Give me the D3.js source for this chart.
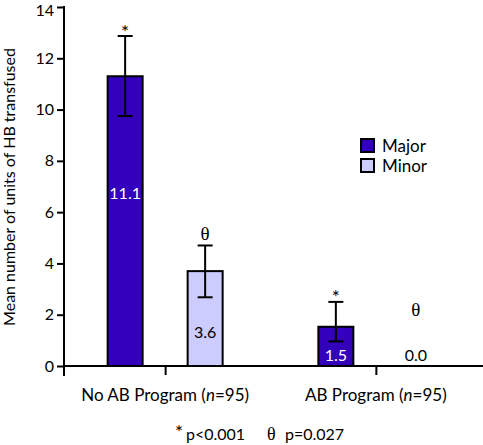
<!DOCTYPE html>
<html><head><meta charset="utf-8">
<script src="https://cdn.jsdelivr.net/npm/d3@7"></script>
<style>
body{margin:0;background:#fff}
text{font-family:Lato,"Open Sans",sans-serif;fill:#000}
</style></head>
<body><svg id="c" width="483" height="445"></svg>
<script>
const groups = ["No AB Program", "AB Program"];
const groupN = [95, 95];
const series = ["Major", "Minor"];
const majorValues = [11.3, 1.53];
const minorValues = [3.7, 0.0];
const majorErrLow = [9.75, 0.96];
const majorErrHigh = [12.87, 2.5];
const minorErrLow = [2.68, null];
const minorErrHigh = [4.7, null];
const majorLabels = ["11.1", "1.5"];
const minorLabels = ["3.6", "0.0"];
const majorLabelAt = [6.75, 0.43];
const minorLabelAt = [1.33, 0.43];
const majorMarks = ["*", "*"];
const minorMarks = ["θ", "θ"];
const yTicks = [0, 2, 4, 6, 8, 10, 12, 14];
const colors = {Major: "#3300bb", Minor: "#ccccff"};
const labelColors = {Major: "#fff", Minor: "#000"};

const svg = d3.select("#c");
const y = d3.scaleLinear().domain([0, 14]).range([366, 7]);
const x0 = d3.scalePoint().domain(groups).range([64, 477]).padding(0.48);
const x1 = d3.scaleBand().domain(series).range([-80, 80]).paddingInner(0.5625).paddingOuter(0.28125);

const data = [];
groups.forEach((g, i) => {
  data.push({g, s: "Major", v: majorValues[i], lo: majorErrLow[i], hi: majorErrHigh[i], lab: majorLabels[i], labAt: majorLabelAt[i], mark: majorMarks[i]});
  data.push({g, s: "Minor", v: minorValues[i], lo: minorErrLow[i], hi: minorErrHigh[i], lab: minorLabels[i], labAt: minorLabelAt[i], mark: minorMarks[i]});
});

// bars
svg.selectAll("rect.bar").data(data.filter(d => d.v > 0)).join("rect")
  .attr("class", "bar")
  .attr("x", d => x0(d.g) + x1(d.s))
  .attr("width", x1.bandwidth())
  .attr("y", d => y(d.v))
  .attr("height", d => y(0) - y(d.v))
  .attr("fill", d => colors[d.s])
  .attr("stroke", "#000").attr("stroke-width", 2);

// error bars
const eb = data.filter(d => d.lo != null);
const cx = d => x0(d.g) + x1(d.s) + x1.bandwidth() / 2;
svg.selectAll("line.err").data(eb).join("line")
  .attr("x1", cx).attr("x2", cx)
  .attr("y1", d => y(d.lo)).attr("y2", d => y(d.hi))
  .attr("stroke", "#000").attr("stroke-width", 2);
svg.selectAll("line.capH").data(eb).join("line")
  .attr("x1", d => cx(d) - 7.5).attr("x2", d => cx(d) + 7.5)
  .attr("y1", d => y(d.hi)).attr("y2", d => y(d.hi))
  .attr("stroke", "#000").attr("stroke-width", 2);
svg.selectAll("line.capL").data(eb).join("line")
  .attr("x1", d => cx(d) - 7.5).attr("x2", d => cx(d) + 7.5)
  .attr("y1", d => y(d.lo)).attr("y2", d => y(d.lo))
  .attr("stroke", "#000").attr("stroke-width", 2);

// value labels
svg.selectAll("text.val").data(data).join("text")
  .attr("x", cx).attr("y", d => y(d.labAt) + 6)
  .attr("text-anchor", "middle").attr("font-size", 16)
  .style("fill", d => d.v > 0 ? labelColors[d.s] : "#000")
  .text(d => d.lab);

// significance marks
svg.selectAll("text.mark").data(data).join("text")
  .attr("x", cx)
  .attr("y", d => d.hi != null ? y(d.hi) - 5 : y(d.v) - 50)
  .attr("text-anchor", "middle")
  .attr("font-size", d => d.mark === "*" ? 19 : 19)
  .attr("dy", d => d.mark === "*" ? "0.4em" : "0")
  .style("font-family", d => d.mark === "*" ? "Lato" : "'Liberation Serif',serif")
  .text(d => d.mark);

// y axis
const yAxis = d3.axisLeft(y).tickValues(yTicks).tickSize(7).tickFormat(d3.format("d"));
const ya = svg.append("g").attr("transform", "translate(64,0)").call(yAxis);
ya.select(".domain").attr("d", "M0,6V376").attr("stroke-width", 2);
ya.selectAll(".tick line").attr("stroke-width", 2);
ya.selectAll(".tick text").attr("font-size", 16).attr("x", -10).style("font-family", "Lato");
ya.selectAll(".tick").filter(d => d === 14).select("text").attr("dy", "0.55em");

// x axis
const xa = svg.append("g").attr("transform", "translate(0,366)")
  .call(d3.axisBottom(x0).tickSize(9).tickFormat(""));
xa.select(".domain").attr("d", "M64,0H483").attr("stroke-width", 2);
xa.selectAll(".tick line").attr("stroke-width", 2);
svg.selectAll("text.xl").data(groups).join("text")
  .attr("x", d => x0(d)).attr("y", 401)
  .attr("text-anchor", "middle").attr("font-size", 17)
  .each(function(d, i) {
    const t = d3.select(this);
    t.append("tspan").text(d + " (");
    t.append("tspan").style("font-style", "italic").text("n");
    t.append("tspan").text("=" + groupN[i] + ")");
  });

// y title
svg.append("text")
  .attr("transform", "translate(15,187) rotate(-90)")
  .attr("text-anchor", "middle").attr("font-size", 16)
  .text("Mean number of units of HB transfused");

// legend
const lg = svg.append("g").attr("transform", "translate(361,139)");
series.forEach((s, i) => {
  lg.append("rect").attr("x", 0).attr("y", i * 20).attr("width", 13).attr("height", 13)
    .attr("fill", colors[s]).attr("stroke", "#000").attr("stroke-width", 2);
  lg.append("text").attr("x", 21).attr("y", i * 20 + 13).attr("font-size", 17).text(s);
});

// footnote
const fn = svg.append("text").attr("y", 440).attr("font-size", 16);
fn.append("tspan").attr("x", 175).attr("dy", "-1").style("font-size", "19px").text("*");
fn.append("tspan").attr("x", 186).attr("dy", "1").text("p<0.001");
fn.append("tspan").attr("x", 267).style("font-family", "'Liberation Serif',serif").style("font-size", "18px").text("θ");
fn.append("tspan").attr("x", 285).text("p=0.027");
</script></body></html>
